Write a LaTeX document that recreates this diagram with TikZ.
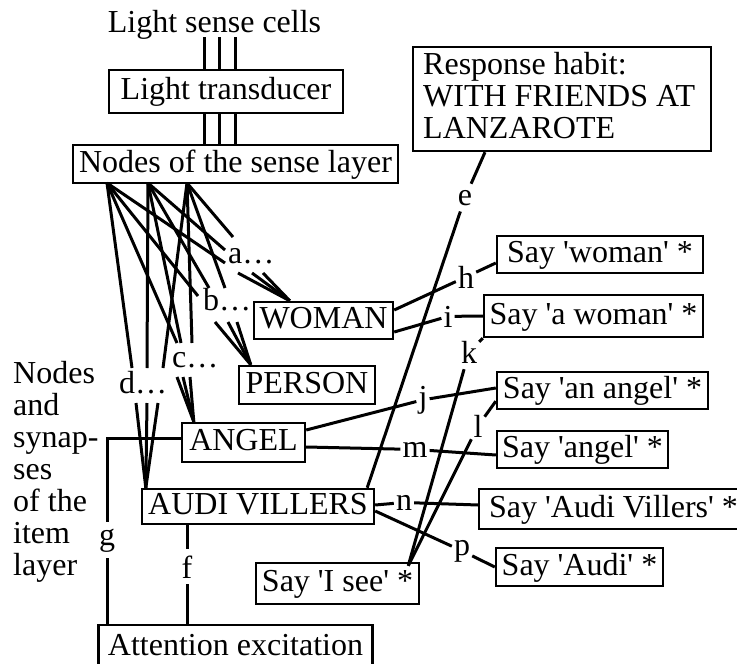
\documentclass[tikz,border=0pt]{standalone}
\usepackage{fontspec}
\setmainfont{Liberation Serif}[Ligatures=TeXOff]
\usetikzlibrary{calc}
\begin{document}
\begin{tikzpicture}[x=1pt, y=-1pt,
  font=\fontsize{32pt}{32pt}\selectfont,
  box/.style={draw, line width=2.4pt, inner sep=0pt, text height=22pt, text depth=6pt},
  con/.style={line width=3pt},
  lab/.style={inner xsep=2pt, inner ysep=6pt, anchor=base},
  fanlab/.style={inner sep=0pt, anchor=base west}]
\useasboundingbox (0,0) rectangle (737,664);

% top
\node[anchor=base] (lsc) at (214.5,32) {Light sense cells};
\node[box, minimum width=234pt, minimum height=43pt] (trans) at (226,91.5) {Light transducer};
\node[box, minimum width=325pt, minimum height=38pt] (sense) at (235.5,164) {Nodes of the sense layer};
\node[draw, line width=2.4pt, inner sep=0pt, minimum width=298pt, minimum height=104pt] (resp) at (562,99) {};
\node[anchor=north west, inner sep=0pt, align=left] (resptxt) at (423,52)
      {Response habit:\\WITH FRIENDS AT\\LANZAROTE};

\foreach \o in {-22,-7,9} {
  \draw[con] ([xshift=\o pt]trans.north) -- ++(0,-32);
  \draw[con] ([xshift=\o pt]trans.south) -- ++(0,32);
}

% item nodes
\node[box, minimum width=139pt, minimum height=37pt] (woman) at (323.5,320.5) {WOMAN};
\node[box, minimum width=136pt, minimum height=38pt] (person) at (307,385) {PERSON};
\node[box, minimum width=123pt, minimum height=39pt] (angel) at (243.5,442.5) {ANGEL};
\node[box, minimum width=232pt, minimum height=35pt] (audi) at (258,506.5) {AUDI VILLERS};
\node[box, minimum width=163pt, minimum height=41pt] (isee) at (337.5,583.5) {Say 'I see' *};
\node[box, minimum width=274pt, minimum height=44pt] (att) at (235.5,647) {Attention excitation};

% response boxes
\node[box, minimum width=206pt, minimum height=37pt] (sayw) at (600,254.5) {Say 'woman' *};
\node[box, minimum width=219pt, minimum height=42pt] (sayaw) at (593.5,316) {Say 'a woman' *};
\node[box, minimum width=211pt, minimum height=37pt] (sayan) at (602.5,390.5) {Say 'an angel' *};
\node[box, minimum width=171pt, minimum height=37pt] (saya) at (582.5,449.5) {Say 'angel' *};
\node[box, inner xsep=10pt, minimum height=40pt, anchor=west] (sayav) at (478,509) {Say 'Audi Villers' *};
\node[box, minimum width=167pt, minimum height=38pt] (sayau) at (579.5,567) {Say 'Audi' *};

% left text
\node[anchor=north west, inner sep=0pt, align=left] (itemtxt) at (13,361)
  {Nodes\\and\\synap-\\ses\\of the\\item\\layer};

% fan labels
\node[fanlab] (la) at (228,263) {a…};
\node[fanlab] (lb) at (203,310) {b…};
\node[fanlab] (lc) at (172,367) {c…};
\node[fanlab] (ld) at (119,393) {d…};

% connector labels
\node[lab] (e) at (465,205) {e};
\node[lab] (h) at (466,288) {h};
\node[lab] (i) at (448,327) {i};
\node[lab] (k) at (469,363) {k};
\node[lab] (j) at (423,407) {j};
\node[lab] (l) at (478,437) {l};
\node[lab] (m) at (415,457) {m};
\node[lab] (n) at (404,510) {n};
\node[lab] (p) at (462,555) {p};
\node[lab] (f) at (187,578) {f};
\node[lab] (g) at (107,545) {g};

% fan coordinates
\coordinate (s1) at (107,183);
\coordinate (s2) at (148,183);
\coordinate (s3) at (187,183);
\coordinate (a1) at (225,263); \coordinate (a2) at (225,250); \coordinate (a3) at (233,237);
\coordinate (b1) at (198,296); \coordinate (b2) at (209,288); \coordinate (b3) at (225,288);
\coordinate (c1) at (177,343); \coordinate (c2) at (181,343); \coordinate (c3) at (192,343);
\coordinate (d1) at (132,368); \coordinate (d2) at (147,368); \coordinate (d3) at (163,368);

\draw[con] (s1) -- (a1); \draw[con] (s2) -- (a2); \draw[con] (s3) -- (a3);
\draw[con] (s1) -- (b1); \draw[con] (s2) -- (b2); \draw[con] (s3) -- (b3);
\draw[con] (s1) -- (c1); \draw[con] (s2) -- (c2); \draw[con] (s3) -- (c3);
\draw[con] (s1) -- (d1); \draw[con] (s2) -- (d2); \draw[con] (s3) -- (d3);

\coordinate (wa) at ([xshift=37pt]woman.north west);
\coordinate (pa) at ([xshift=13pt]person.north west);
\coordinate (an) at ([xshift=13pt]angel.north west);
\coordinate (au) at ([xshift=5pt]audi.north west);
\foreach \x in {238,252,263} \draw[con] (\x,273) -- (wa);
\foreach \x in {215,228,237} \draw[con] (\x,322) -- (pa);
\foreach \x in {177,183,190} \draw[con] (\x,377) -- (an);
\foreach \x in {136,147,158} \draw[con] (\x,403) -- (au);

% right connectors
\coordinate (star) at ([xshift=-12pt,yshift=-4pt]isee.north east);
\draw[con] ([yshift=10.5pt]woman.east) -- (h);
\draw[con] (h) -- ([yshift=-8.5pt]sayw.west);
\draw[con] ([yshift=-11.5pt]woman.east) -- (i);
\draw[con] (i) -- (sayaw.west);
\draw[con] (sayaw.south west) -- (k);
\draw[con] (k) -- (star);
\draw[con] ([yshift=9pt]sayan.south west) -- (l);
\draw[con] (l) -- (star);
\draw[con] ([yshift=12.5pt]angel.east) -- (j);
\draw[con] (j) -- ([yshift=2.5pt]sayan.west);
\draw[con] ([yshift=-4.5pt]angel.east) -- (m);
\draw[con] (m) -- ([yshift=-5.5pt]saya.west);
\draw[con] ([yshift=1.5pt]audi.east) -- (n);
\draw[con] (n) -- ([yshift=4pt]sayav.west);
\draw[con] ([yshift=-4.5pt]audi.east) -- (p);
\draw[con] (p) -- (sayau.west);
\draw[con] ([xshift=-77pt]resp.south) -- (e);
\draw[con] (e) -- ([xshift=-8pt]audi.north east);

% attention
\draw[con] (f |- audi.south) -- (f);
\draw[con] (f) -- (f |- att.north);
\draw[con] ([yshift=4.5pt]angel.west) -| (g.north);
\draw[con] (g.south) -- (g |- att.north);
\end{tikzpicture}
\end{document}
